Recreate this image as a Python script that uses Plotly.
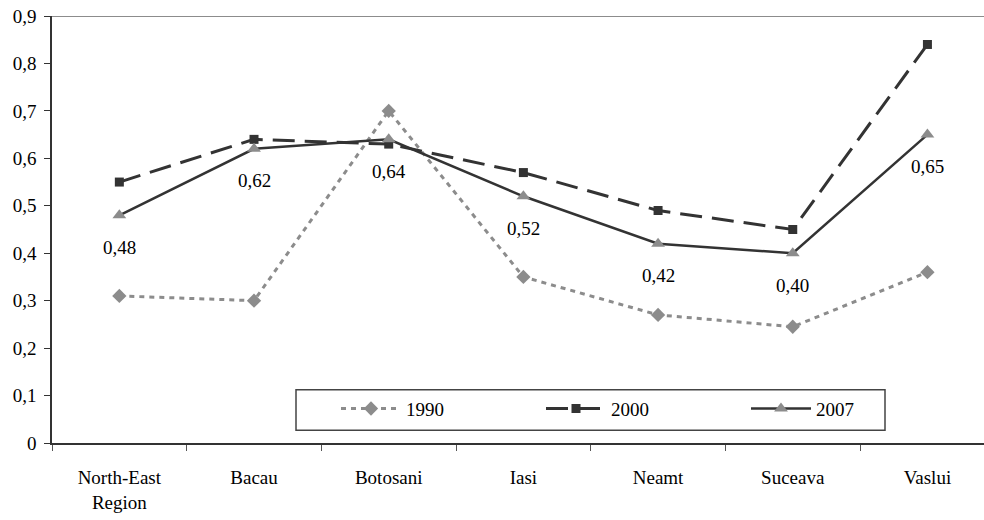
import plotly.graph_objects as go

categories = ["North-East<br>Region", "Bacau", "Botosani", "Iasi", "Neamt", "Suceava", "Vaslui"]
v1990 = [0.31, 0.30, 0.70, 0.35, 0.27, 0.245, 0.36]
v2000 = [0.55, 0.64, 0.63, 0.57, 0.49, 0.45, 0.84]
v2007 = [0.48, 0.62, 0.64, 0.52, 0.42, 0.40, 0.65]
labels2007 = ["0,48", "0,62", "0,64", "0,52", "0,42", "0,40", "0,65"]
ytickvals = [0, 0.1, 0.2, 0.3, 0.4, 0.5, 0.6, 0.7, 0.8, 0.9]
yticktext = ["0", "0,1", "0,2", "0,3", "0,4", "0,5", "0,6", "0,7", "0,8", "0,9"]

FONT = "Liberation Serif, Times New Roman, serif"
FS = 19
fig = go.Figure()
fig.add_trace(go.Scatter(x=categories, y=v1990, name="1990", mode="lines+markers",
                         line=dict(color="#8c8c8c", width=3, dash="5px,5px"),
                         marker=dict(symbol="diamond", size=11, color="#8c8c8c")))
fig.add_trace(go.Scatter(x=categories, y=v2000, name="2000", mode="lines+markers",
                         line=dict(color="#333333", width=3, dash="22px,10px"),
                         marker=dict(symbol="square", size=9, color="#333333")))
fig.add_trace(go.Scatter(x=categories, y=v2007, name="2007", mode="lines+markers",
                         line=dict(color="#333333", width=2.5),
                         marker=dict(symbol="triangle-up", size=12, color="#8c8c8c")))

for c, v, t in zip(categories, v2007, labels2007):
    fig.add_annotation(x=c, y=v, text=t, showarrow=False, yshift=-32,
                       font=dict(family=FONT, size=FS, color="#000000"))

# top border line
fig.add_shape(type="line", xref="paper", yref="y", x0=0, x1=1, y0=0.9, y1=0.9,
              line=dict(color="#8c8c8c", width=2))
# legend box
fig.add_shape(type="rect", xref="paper", yref="y", x0=(296-52)/932, x1=(885-52)/932,
              y0=0.027, y1=0.112, line=dict(color="#444444", width=1.5), fillcolor="white",
              layer="below")

fig.update_layout(
    width=984, height=520,
    margin=dict(l=52, r=0, t=16, b=77),
    plot_bgcolor="white", paper_bgcolor="white",
    font=dict(family=FONT, size=FS, color="#000000"),
    showlegend=True,
    legend=dict(orientation="h", x=(336-52)/932, xanchor="left", y=0.125, yanchor="top",
                bgcolor="rgba(0,0,0,0)", borderwidth=0, itemwidth=60,
                entrywidth=130, entrywidthmode="pixels",
                font=dict(family=FONT, size=FS)),
    xaxis=dict(type="category", range=[-0.5, 6.42], showgrid=False, showline=True,
               linecolor="#333333", linewidth=2, ticks="outside", tickson="boundaries",
               ticklen=6, tickcolor="#555555", tickwidth=1, ticklabelstandoff=16,
               ticklabeloverflow="allow", automargin=False,
               tickfont=dict(family=FONT, size=FS)),
    yaxis=dict(range=[0, 0.9], tickvals=ytickvals, ticktext=yticktext, showgrid=False,
               showline=True, linecolor="#333333", linewidth=1.5, ticks="outside",
               ticklen=6, tickcolor="#333333", zeroline=False, automargin=False,
               ticklabeloverflow="allow", ticklabelstandoff=4,
               tickfont=dict(family=FONT, size=FS)),
)
fig.write_html("out.html", config={"displayModeBar": False},
               post_script="document.body.style.margin='0';document.body.style.overflow='hidden';")
